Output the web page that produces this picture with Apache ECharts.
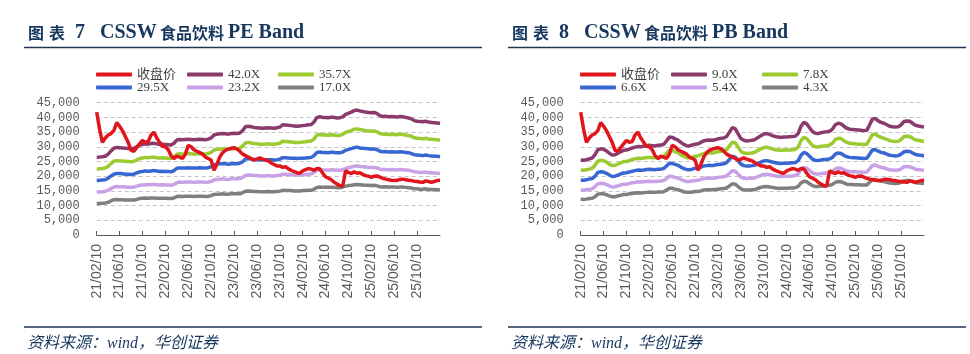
<!DOCTYPE html>
<html>
<head>
<meta charset="utf-8">
<script src="https://cdn.jsdelivr.net/npm/echarts@6/dist/echarts.min.js"></script>
<style>
html, body { margin: 0; padding: 0; background: #fff; }
#main { width: 970px; height: 354px; }
</style>
</head>
<body>
<div id="main"></div>
<script>
// 日期（半月一个点）
const dates = [
  '21/02/10','21/02/25','21/03/10','21/03/25','21/04/10','21/04/25','21/05/10','21/05/25',
  '21/06/10','21/06/25','21/07/10','21/07/25','21/08/10','21/08/25','21/09/10','21/09/25',
  '21/10/10','21/10/25','21/11/10','21/11/25','21/12/10','21/12/25','22/01/10','22/01/25',
  '22/02/10','22/02/25','22/03/10','22/03/25','22/04/10','22/04/25','22/05/10','22/05/25',
  '22/06/10','22/06/25','22/07/10','22/07/25','22/08/10','22/08/25','22/09/10','22/09/25',
  '22/10/10','22/10/25','22/11/10','22/11/25','22/12/10','22/12/25','23/01/10','23/01/25',
  '23/02/10','23/02/25','23/03/10','23/03/25','23/04/10','23/04/25','23/05/10','23/05/25',
  '23/06/10','23/06/25','23/07/10','23/07/25','23/08/10','23/08/25','23/09/10','23/09/25',
  '23/10/10','23/10/25','23/11/10','23/11/25','23/12/10','23/12/25','24/01/10','24/01/25',
  '24/02/10','24/02/25','24/03/10','24/03/25','24/04/10','24/04/25','24/05/10','24/05/25',
  '24/06/10','24/06/25','24/07/10','24/07/25','24/08/10','24/08/25','24/09/10','24/09/25',
  '24/10/10','24/10/25','24/11/10','24/11/25','24/12/10','24/12/25','25/01/10','25/01/25',
  '25/02/10','25/02/25','25/03/10','25/03/25','25/04/10','25/04/25','25/05/10','25/05/25',
  '25/06/10','25/06/25','25/07/10','25/07/25','25/08/10','25/08/25','25/09/10','25/09/25',
  '25/10/10','25/10/25','25/11/10','25/11/25','25/12/10','25/12/25','26/01/10','26/01/25',
  '26/02/10'
];

// 收盘价（两张图相同）
const closePrice = [
  41800,36000,31500,33000,34000,34500,35500,38200,
  37000,35500,33500,31500,28800,28500,29800,31000,
  32200,31500,31800,34000,35000,33000,31500,30200,
  30000,29000,27000,26000,26800,26500,26000,27500,
  30500,30000,29000,28500,28000,27500,26500,26000,
  25500,22000,24000,26500,28000,28800,29200,29500,
  29700,29300,28500,27500,27000,26500,26000,25500,
  25800,26200,25800,25500,25200,24500,24000,23500,
  23500,23000,23200,22500,22000,21600,21200,21000,
  21800,22200,22600,22400,22000,22600,22500,21000,
  19800,19300,18800,18000,17300,16800,16600,21800,
  21300,20900,21500,21000,21200,20600,20200,20000,
  19600,20000,20100,19700,19300,19000,18800,18600,
  18500,18600,18900,19000,18800,18600,18500,18300,
  18200,18000,17900,18400,18200,17900,18200,18500,
  18600
];

// PE Band
const pe420 = [
  26400,26500,26600,26800,27500,28600,29500,29800,
  29700,29600,29500,29400,29300,29500,30000,30600,
  30800,31000,30900,31100,31200,31000,30800,30900,
  30800,30700,30600,31200,32300,32500,32400,32500,
  32600,32500,32400,32500,32600,32500,32400,32600,
  33000,34000,34300,34400,34500,34400,34300,34500,
  34600,34500,34700,35500,36800,37000,36800,36600,
  36500,36400,36300,36400,36500,36400,36300,36500,
  36700,37500,37400,37300,37200,37100,37000,37100,
  37200,37300,37500,37600,38500,40000,40200,40000,
  40000,39900,40100,40000,39800,39900,40200,41000,
  41400,41800,42300,42500,42200,42000,41800,41700,
  41600,41700,41300,40600,40300,40400,40200,40300,
  40200,40100,40300,40200,40000,39800,39500,38900,
  38700,38600,38500,38700,38400,38300,38200,38100,
  37900
];
const pe357 = [
  22400,22500,22600,22800,23400,24300,25100,25300,
  25200,25200,25100,25000,24900,25100,25500,26000,
  26200,26400,26300,26400,26500,26300,26200,26300,
  26200,26100,26000,26500,27500,27600,27500,27600,
  27700,27600,27500,27600,27700,27600,27500,27700,
  28100,28900,29200,29200,29300,29200,29200,29300,
  29400,29300,29500,30200,31300,31500,31300,31100,
  31000,30900,30900,30900,31000,30900,30900,31000,
  31200,31900,31800,31700,31600,31500,31500,31500,
  31600,31700,31900,32000,32700,34000,34200,34000,
  34000,33900,34100,34000,33800,33900,34200,34900,
  35200,35500,36000,36100,35900,35700,35500,35400,
  35400,35400,35100,34500,34300,34300,34200,34300,
  34200,34100,34300,34200,34000,33800,33600,33100,
  32900,32800,32700,32900,32600,32600,32500,32400,
  32200
];
const pe295 = [
  18500,18600,18700,18800,19300,20100,20700,20900,
  20900,20800,20700,20700,20600,20700,21100,21500,
  21600,21800,21700,21800,21900,21800,21600,21700,
  21600,21600,21500,21900,22700,22800,22800,22800,
  22900,22800,22800,22800,22900,22800,22800,22900,
  23200,23900,24100,24200,24200,24200,24100,24200,
  24300,24200,24400,24900,25800,26000,25800,25700,
  25600,25600,25500,25600,25600,25600,25500,25600,
  25800,26300,26300,26200,26100,26100,26000,26100,
  26100,26200,26300,26400,27000,28100,28200,28100,
  28100,28000,28200,28100,28000,28000,28200,28800,
  29100,29400,29700,29900,29600,29500,29400,29300,
  29200,29300,29000,28500,28300,28400,28200,28300,
  28200,28200,28300,28200,28100,28000,27700,27300,
  27200,27100,27000,27200,27000,26900,26800,26800,
  26600
];
const pe232 = [
  14600,14600,14700,14900,15200,15800,16300,16500,
  16400,16400,16300,16200,16200,16300,16600,16900,
  17000,17100,17100,17200,17200,17100,17000,17100,
  17000,17000,16900,17200,17800,18000,17900,18000,
  18000,18000,17900,18000,18000,18000,17900,18000,
  18200,18800,18900,19000,19100,19000,18900,19100,
  19100,19100,19200,19600,20300,20400,20300,20200,
  20200,20100,20100,20100,20200,20100,20100,20200,
  20300,20700,20700,20600,20500,20500,20400,20500,
  20500,20600,20700,20800,21300,22100,22200,22100,
  22100,22000,22200,22100,22000,22000,22200,22600,
  22900,23100,23400,23500,23300,23200,23100,23000,
  23000,23000,22800,22400,22300,22300,22200,22300,
  22200,22100,22300,22200,22100,22000,21800,21500,
  21400,21300,21300,21400,21200,21200,21100,21000,
  20900
];
const pe170 = [
  10700,10700,10800,10900,11100,11600,12000,12100,
  12000,12000,11900,11900,11900,11900,12100,12400,
  12500,12600,12500,12600,12600,12500,12500,12500,
  12500,12400,12400,12600,13100,13200,13100,13200,
  13200,13200,13100,13200,13200,13200,13100,13200,
  13400,13800,13900,13900,14000,13900,13900,14000,
  14000,14000,14000,14400,14900,15000,14900,14800,
  14800,14700,14700,14700,14800,14700,14700,14800,
  14900,15200,15100,15100,15100,15000,15000,15000,
  15100,15100,15200,15200,15600,16200,16300,16200,
  16200,16200,16200,16200,16100,16100,16300,16600,
  16800,16900,17100,17200,17100,17000,16900,16900,
  16800,16900,16700,16400,16300,16400,16300,16300,
  16300,16200,16300,16300,16200,16100,16000,15700,
  15700,15600,15600,15700,15500,15500,15500,15400,
  15300
];

// PB Band
const pb90 = [
  25500,25400,25600,25900,26200,27300,29000,29300,
  29200,28600,27800,27200,27300,27800,28300,28800,
  28900,29200,29600,29900,30100,30000,30200,30400,
  30500,30400,30300,30500,30600,30800,32000,33300,
  33200,32700,32300,31500,30800,30400,30300,30600,
  30900,31000,31500,32000,32200,32300,32200,32400,
  32700,32900,33000,33500,35000,36500,36200,34500,
  32800,32200,32000,32100,32200,32500,33200,33800,
  34300,34500,34200,33800,33500,33300,33200,33300,
  33300,33400,33500,33600,34500,37000,38300,37800,
  36500,35200,34600,34500,34800,35000,35100,35300,
  36000,37500,38000,37800,37000,36300,36000,35900,
  35800,35700,35600,35500,35600,37500,39500,39600,
  38800,38300,38000,37500,37000,36800,36700,36800,
  37500,38600,38800,38700,38000,37300,37100,36900,
  36700
];
const pb78 = [
  22100,22000,22200,22400,22700,23700,25100,25400,
  25300,24800,24100,23600,23700,24100,24500,25000,
  25000,25300,25700,25900,26100,26000,26200,26300,
  26400,26300,26300,26400,26500,26700,27700,28900,
  28800,28300,28000,27300,26700,26300,26300,26500,
  26800,26900,27300,27700,27900,28000,27900,28100,
  28300,28500,28600,29000,30300,31600,31400,29900,
  28400,27900,27700,27800,27900,28200,28800,29300,
  29700,29900,29600,29300,29000,28900,28800,28900,
  28900,28900,29000,29100,29900,32100,33200,32800,
  31600,30500,30000,29900,30200,30300,30400,30600,
  31200,32500,32900,32800,32100,31500,31200,31100,
  31000,30900,30900,30800,30900,32500,34200,34300,
  33600,33200,32900,32500,32100,31900,31800,31900,
  32500,33500,33600,33500,32900,32300,32200,32000,
  31800
];
const pb66 = [
  18700,18600,18800,19000,19200,20000,21300,21500,
  21400,21000,20400,19900,20000,20400,20800,21100,
  21200,21400,21700,21900,22100,22000,22100,22300,
  22400,22300,22200,22400,22400,22600,23500,24400,
  24300,24000,23700,23100,22600,22300,22200,22400,
  22700,22700,23100,23500,23600,23700,23600,23800,
  24000,24100,24200,24600,25700,26800,26500,25300,
  24100,23600,23500,23500,23600,23800,24300,24800,
  25200,25300,25100,24800,24600,24400,24300,24400,
  24400,24500,24600,24600,25300,27100,28100,27700,
  26800,25800,25400,25300,25500,25700,25700,25900,
  26400,27500,27900,27700,27100,26600,26400,26300,
  26300,26200,26100,26000,26100,27500,29000,29000,
  28500,28100,27900,27500,27100,27000,26900,27000,
  27500,28300,28500,28400,27900,27400,27200,27100,
  26900
];
const pb54 = [
  15300,15200,15400,15500,15700,16400,17400,17600,
  17500,17200,16700,16300,16400,16700,17000,17300,
  17300,17500,17800,17900,18100,18000,18100,18200,
  18300,18200,18200,18300,18400,18500,19200,20000,
  19900,19600,19400,18900,18500,18200,18200,18400,
  18500,18600,18900,19200,19300,19400,19300,19400,
  19600,19700,19800,20100,21000,21900,21700,20700,
  19700,19300,19200,19300,19300,19500,19900,20300,
  20600,20700,20500,20300,20100,20000,19900,20000,
  20000,20000,20100,20200,20700,22200,23000,22700,
  21900,21100,20800,20700,20900,21000,21100,21200,
  21600,22500,22800,22700,22200,21800,21600,21500,
  21500,21400,21400,21300,21400,22500,23700,23800,
  23300,23000,22800,22500,22200,22100,22000,22100,
  22500,23200,23300,23200,22800,22400,22300,22100,
  22000
];
const pb43 = [
  12200,12100,12200,12400,12500,13000,13900,14000,
  14000,13700,13300,13000,13000,13300,13500,13800,
  13800,14000,14100,14300,14400,14300,14400,14500,
  14600,14500,14500,14600,14600,14700,15300,15900,
  15900,15600,15400,15100,14700,14500,14500,14600,
  14800,14800,15000,15300,15400,15400,15400,15500,
  15600,15700,15800,16000,16700,17400,17300,16500,
  15700,15400,15300,15300,15400,15500,15900,16200,
  16400,16500,16300,16200,16000,15900,15900,15900,
  15900,16000,16000,16100,16500,17700,18300,18100,
  17400,16800,16500,16500,16600,16700,16800,16900,
  17200,17900,18200,18100,17700,17300,17200,17200,
  17100,17100,17000,17000,17000,17900,18900,18900,
  18500,18300,18200,17900,17700,17600,17500,17600,
  17900,18400,18500,18500,18200,17800,17700,17600,
  17500
];

const colors = ['#e0161d', '#8b3a6c', '#9bca31', '#3867d1', '#c9a1e6', '#7f7f7f'];
const navy = '#17375e';
const grey = '#595959';

const peNames = ['收盘价', '42.0X', '35.7X', '29.5X', '23.2X', '17.0X'];
const pbNames = ['收盘价', '9.0X', '7.8X', '6.6X', '5.4X', '4.3X'];
const peData = [closePrice, pe420, pe357, pe295, pe232, pe170];
const pbData = [closePrice, pb90, pb78, pb66, pb54, pb43];

const dx = 484; // 右图相对左图的偏移

function showTick(idx) {
  return idx % 8 === 0 && idx < 120;
}

function makeAxis(g) {
  return {
    x: {
      type: 'category', gridIndex: g, data: dates, boundaryGap: false,
      axisLine: { lineStyle: { color: grey, width: 1 } },
      axisTick: { inside: true, length: 4, interval: showTick, lineStyle: { color: grey } },
      axisLabel: { interval: showTick, rotate: 90, margin: 9, fontFamily: 'Liberation Sans', fontSize: 14, color: grey },
      splitLine: { show: false }
    },
    y: {
      type: 'value', gridIndex: g, min: 0, max: 45000, interval: 5000,
      axisLine: { show: false }, axisTick: { show: false },
      axisLabel: {
        margin: 17, fontFamily: 'Liberation Mono', fontSize: 12, color: grey,
        showMinLabel: true, showMaxLabel: true,
        formatter: v => v.toLocaleString('en-US')
      },
      splitLine: { lineStyle: { type: [4, 3], color: '#c4c4c4' } }
    }
  };
}

const axes = [makeAxis(0), makeAxis(1)];

function makeSeries(names, data, g) {
  return names.map((n, k) => ({
    name: n, type: 'line', xAxisIndex: g, yAxisIndex: g,
    data: data[k], showSymbol: false, symbol: 'none',
    z: k === 0 ? 3 : 2, // 收盘价画在最上层
    lineStyle: { width: 3.5, color: colors[k] },
    itemStyle: { color: colors[k] },
    emphasis: { disabled: true }
  }));
}

function makeLegends(names, x0) {
  const cols = [[names[0], names[3]], [names[1], names[4]], [names[2], names[5]]];
  return cols.map((d, c) => ({
    data: d, orient: 'vertical', left: x0 + c * 91, top: 63,
    itemWidth: 36, itemHeight: 4, itemGap: 0, icon: 'roundRect',
    selectedMode: false,
    textStyle: { fontFamily: "'Liberation Serif', 'Noto Sans CJK SC'", fontSize: 13, lineHeight: 13, color: '#404040' }
  }));
}

function titleParts(x, num, tail) {
  const cjk = { fontFamily: 'Noto Sans CJK SC', fontWeight: 'bold', fontSize: 16, fill: navy };
  const lat = { fontFamily: 'Liberation Serif', fontWeight: 'bold', fontSize: 20, fill: navy };
  const parts = [
    ['图', 28, cjk], ['表', 49, cjk], [num, 75, lat],
    ['CSSW', 100, lat], ['食品饮料', 160, cjk], [tail, 228, lat]
  ];
  return parts.map(p => ({
    type: 'text', x: x + p[1], y: 33,
    style: Object.assign({ text: p[0], verticalAlign: 'middle' }, p[2])
  }));
}

function rules(x) {
  return [
    { type: 'line', shape: { x1: x + 24, y1: 47.5, x2: x + 482, y2: 47.5 }, style: { stroke: '#1f3554', lineWidth: 1.5 } },
    { type: 'line', shape: { x1: x + 24, y1: 327, x2: x + 482, y2: 327 }, style: { stroke: '#1f3554', lineWidth: 1.5 } },
    {
      type: 'text', x: x + 27, y: 344,
      style: {
        text: '资料来源：wind，华创证券', verticalAlign: 'middle',
        fontFamily: "'Liberation Serif', 'Noto Sans CJK SC'", fontStyle: 'italic', fontSize: 16, fill: navy
      }
    }
  ];
}

const chart = echarts.init(document.getElementById('main'));

chart.setOption({
  animation: false,
  backgroundColor: '#fff',
  grid: [
    { left: 96.7, top: 102.7, width: 343.3, height: 132.3 },
    { left: 96.7 + dx, top: 102.7, width: 343.3, height: 132.3 }
  ],
  xAxis: axes.map(a => a.x),
  yAxis: axes.map(a => a.y),
  legend: makeLegends(peNames, 91).concat(makeLegends(pbNames, 91 + dx)),
  graphic: titleParts(0, '7', 'PE Band')
    .concat(titleParts(dx, '8', 'PB Band'))
    .concat(rules(0), rules(dx)),
  series: makeSeries(peNames, peData, 0).concat(makeSeries(pbNames, pbData, 1))
});
</script>
</body>
</html>
